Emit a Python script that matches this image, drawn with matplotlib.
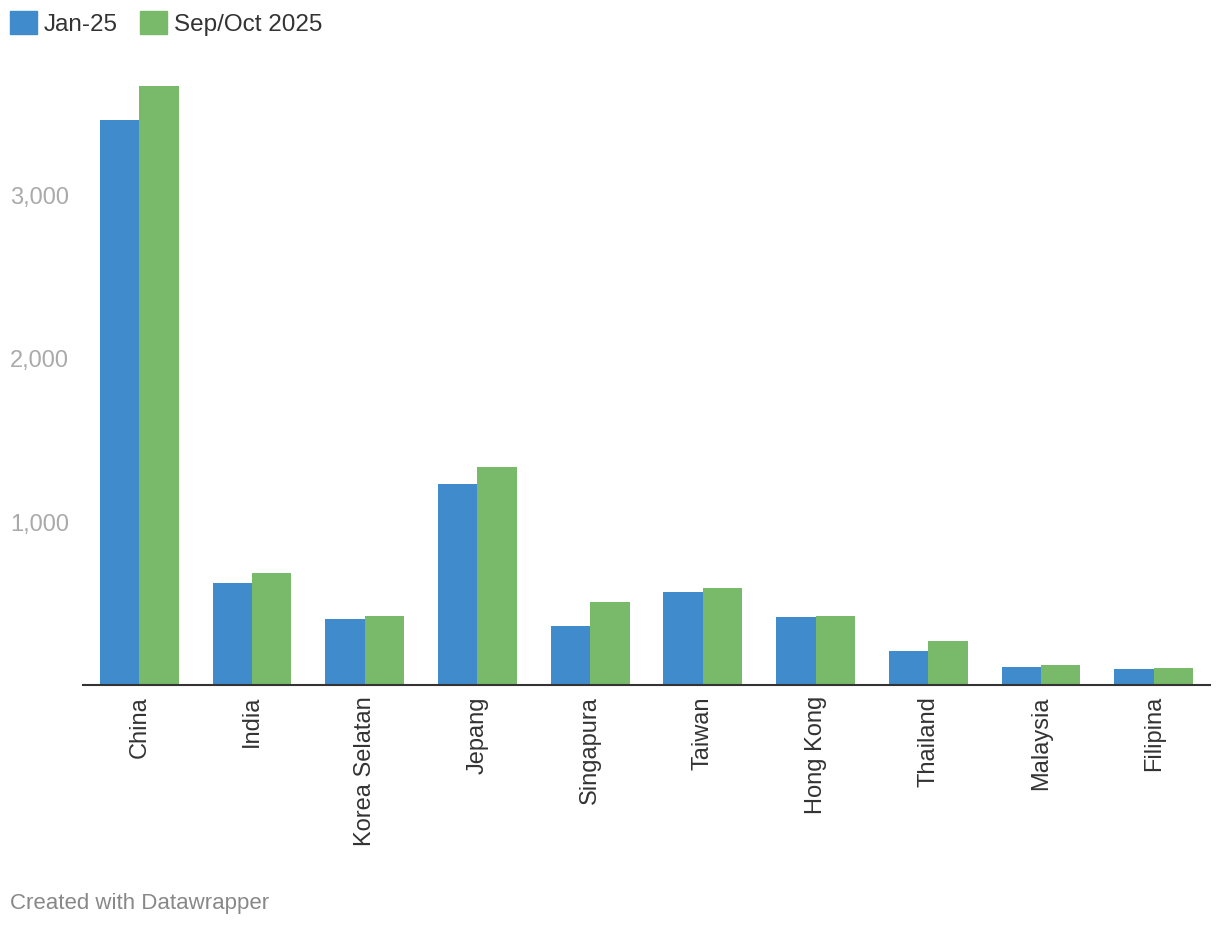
import numpy as np
import matplotlib.pyplot as plt
import matplotlib as mpl
from matplotlib.patches import Patch

mpl.rcParams['font.family'] = ['Liberation Sans', 'DejaVu Sans']

c_jan = '#3f8bcb'
c_sep = '#79b96a'

countries = ['China', 'India', 'Korea Selatan', 'Jepang', 'Singapura',
             'Taiwan', 'Hong Kong', 'Thailand', 'Malaysia', 'Filipina']
jan25 = [3466, 626, 405, 1233, 362, 571, 417, 209, 110, 98]
sepoct25 = [3675, 687, 423, 1337, 509, 595, 423, 270, 123, 104]
series_names = ['Jan-25', 'Sep/Oct 2025']
yticks = [1000, 2000, 3000]
ytick_labels = ['1,000', '2,000', '3,000']

fig = plt.figure(figsize=(12.2, 9.26), dpi=100)
ax = fig.add_axes([83/1220, 1-685/926, 1127/1220, 625/926])

x = np.arange(len(countries))
w = 0.35
ax.bar(x - w/2, jan25, width=w, color=c_jan, linewidth=0)
ax.bar(x + w/2, sepoct25, width=w, color=c_sep, linewidth=0)

ax.set_xlim(-0.5, len(countries) - 0.5)
ax.set_ylim(0, 625/0.163)

for s in ['top', 'right', 'left']:
    ax.spines[s].set_visible(False)
ax.spines['bottom'].set_color('#333333')
ax.spines['bottom'].set_linewidth(1.5)

ax.set_xticks(x)
ax.set_xticklabels(countries, rotation=90, fontsize=17, color='#333333', va='top', ha='center')
ax.tick_params(axis='x', length=0, pad=8)

ax.set_yticks(yticks)
ax.set_yticklabels(ytick_labels, fontsize=17, color='#aaaaaa')
ax.tick_params(axis='y', length=0, pad=73*0.72)
for t in ax.get_yticklabels():
    t.set_ha('left')

handles = [Patch(color=c_jan), Patch(color=c_sep)]
fig.legend(handles, series_names, loc='upper left', bbox_to_anchor=(10/1220, 1-11/926),
           ncol=2, frameon=False, fontsize=17.5, handlelength=1.1, handleheight=1.1,
           handletextpad=0.3, columnspacing=0.9, borderpad=0, borderaxespad=0,
           labelcolor='#333333')

fig.text(10/1220, 1-903/926, 'Created with Datawrapper', fontsize=16, color='#888888',
         va='center', ha='left')

fig.savefig('out.png', dpi=100, facecolor='white')
